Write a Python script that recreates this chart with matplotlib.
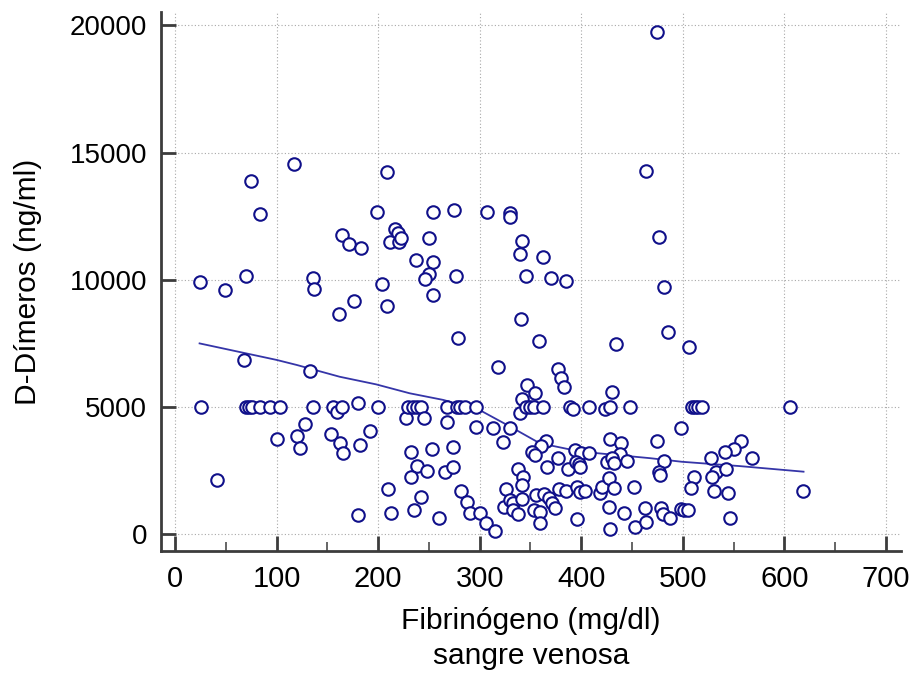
import numpy as np
import matplotlib
matplotlib.use("Agg")
import matplotlib.pyplot as plt
from matplotlib.ticker import MultipleLocator

# ── data ──────────────────────────────────────────────────────────────────────
fib = [
    75, 117, 209, 475, 464,
    84, 199, 164, 171, 183, 217, 219, 212, 220, 222, 24, 49, 70, 136, 137, 204, 176, 161, 209, 68, 133,
    254, 275, 307, 330, 330, 250, 237, 254, 250, 246, 277, 254, 279, 342, 340, 362, 346, 370, 385, 341, 358, 434, 318, 377,
    477, 482, 485, 506,
    25, 70, 73, 76, 84, 93, 103, 136, 155, 159, 164, 180, 200,
    227, 128, 120, 123, 100, 153, 162, 165, 182, 192, 41, 180, 210, 213,
    229, 234, 238, 242, 268, 278, 281, 285, 296, 342, 347, 354, 340, 346, 350, 353, 362,
    380, 383, 389, 392, 408, 423, 428, 430, 448,
    245, 268, 296, 313, 330, 323, 365, 360, 351, 354, 394, 400, 408, 428, 439, 438, 425, 430, 432, 445,
    377, 366, 387, 395, 398, 399, 232, 253, 274, 238, 248, 232, 266, 274, 338, 343, 342, 326, 282, 287,
    290, 300, 306, 315, 260, 235, 242, 324, 330, 333, 333, 338, 342, 355, 353, 359, 359, 363, 368, 371,
    374, 378, 385, 396, 399, 404, 418, 420, 427, 432, 427, 442, 428, 396, 452, 453, 463, 464,
    509, 512, 515, 519, 606, 498, 475, 557, 550, 542, 528, 568, 482, 477, 478, 533, 529, 543,
    511, 508, 531, 545, 618, 479, 481, 487, 498, 501, 505, 547,
]
ddim = [
    13900, 14550, 14230, 19750, 14290,
    12570, 12680, 11760, 11400, 11260, 12010, 11850, 11500, 11500, 11630, 9900, 9590, 10140, 10080, 9650, 9840, 9150, 8660, 8970, 6850, 6430,
    12680, 12740, 12680, 12610, 12480, 11630, 10770, 10710, 10220, 10030, 10140, 9390, 7720, 11510, 11030, 10900, 10140, 10080, 9970, 8470, 7600, 7490, 6560, 6500,
    11690, 9700, 7960, 7350,
    5000, 5000, 5000, 5000, 5000, 5000, 5000, 5000, 5000, 4800, 5000, 5170, 5000,
    4560, 4320, 3860, 3380, 3750, 3940, 3580, 3180, 3500, 4060, 2130, 760, 1770, 830,
    5000, 5000, 5000, 5000, 5000, 5000, 5000, 5000, 5000, 5300, 5870, 5540, 4750, 5000, 5000, 5000, 5000,
    6130, 5800, 5000, 4910, 5000, 4910, 5000, 5600, 5000,
    4560, 4430, 4230, 4160, 4160, 3630, 3680, 3470, 3250, 3120, 3310, 3180, 3180, 3750, 3580, 3140, 2850, 2990, 2790, 2890,
    2990, 2630, 2570, 2850, 2750, 2630, 3250, 3370, 3420, 2680, 2500, 2270, 2440, 2630, 2570, 2270, 1920, 1770, 1700, 1260,
    820, 820, 440, 130, 640, 960, 1450, 1090, 1350, 1220, 960, 790, 1400, 1540, 960, 890, 440, 1580, 1410, 1220,
    1020, 1780, 1700, 1870, 1650, 1700, 1640, 1870, 2200, 1810, 1090, 820, 210, 590, 1870, 270, 1020, 500,
    5000, 5000, 5000, 5000, 5000, 4180, 3680, 3680, 3350, 3250, 3000, 3000, 2890, 2460, 2320, 2440, 2240, 2570,
    2250, 1830, 1690, 1640, 1700, 1020, 800, 640, 990, 960, 960, 640,
]

# smoothed trend line
trend_x = [24, 100, 120, 162, 198, 231, 264, 300, 330, 359, 399, 468, 499, 556, 619]
trend_y = [7500, 6850, 6650, 6190, 5890, 5540, 5280, 4880, 4230, 3580, 3250, 2990, 2850, 2680, 2460]

# ── style ─────────────────────────────────────────────────────────────────────
NAVY = "#10108a"
LINE = "#3535a8"
AXC = "#3c3c3c"
GRID = "#a8a8a8"
FONT = ["Liberation Sans", "DejaVu Sans"]

fig = plt.figure(figsize=(9.17, 6.77), dpi=100, facecolor="white")
ax = fig.add_axes([161 / 917, 1 - 551 / 677, 740 / 917, 539 / 677])

ax.plot(trend_x, trend_y, color=LINE, linewidth=1.3, zorder=2)
ax.plot(fib, ddim, linestyle="none", marker="o", markersize=9.0,
        markerfacecolor="white", markeredgecolor=NAVY, markeredgewidth=1.5, zorder=3)

ax.set_xlim(-14, 715)
ax.set_ylim(-656, 20520)
ax.xaxis.set_major_locator(MultipleLocator(100))
ax.xaxis.set_minor_locator(MultipleLocator(50))
ax.yaxis.set_major_locator(MultipleLocator(5000))

ax.grid(True, which="major", color=GRID, linewidth=0.8, linestyle=(0, (1, 2)))
ax.set_axisbelow(True)

for side in ["top", "right"]:
    ax.spines[side].set_visible(False)
for side in ["left", "bottom"]:
    ax.spines[side].set_color(AXC)
    ax.spines[side].set_linewidth(2.0)

ax.tick_params(which="major", direction="in", length=10.8, width=2.0, color=AXC, pad=10)
ax.tick_params(which="minor", axis="x", direction="in", length=6.2, width=1.1, color=AXC)

for t in ax.get_yticklabels():
    t.set_fontfamily(FONT)
    t.set_fontsize(20)
for t in ax.get_xticklabels():
    t.set_fontfamily(FONT)
    t.set_fontsize(21)

ax.set_ylabel("D-Dímeros (ng/ml)", fontsize=21.5, family=FONT, labelpad=20)
ax.set_xlabel("Fibrinógeno (mg/dl)\nsangre venosa", fontsize=21.5,
              family=FONT, labelpad=10, linespacing=1.35)

fig.savefig("out.png", dpi=100, facecolor="white")
